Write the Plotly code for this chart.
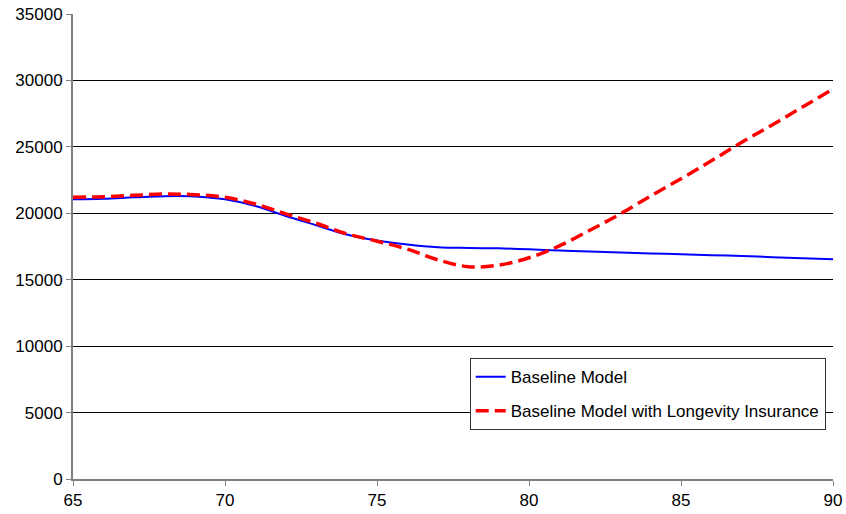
import plotly.graph_objects as go

ages = list(range(65, 91))
baseline = [21050, 21100, 21200, 21290, 21270, 21050, 20550, 19800, 19100, 18400,
            17950, 17650, 17450, 17390, 17360, 17290, 17190, 17120, 17050, 16980,
            16910, 16850, 16780, 16700, 16620, 16540]
longevity = [21200, 21250, 21350, 21450, 21400, 21200, 20700, 19950, 19250, 18450,
             17900, 17300, 16500, 15980, 16100, 16650, 17550, 18720, 19950, 21300,
             22600, 23950, 25350, 26650, 28000, 29350]
x_ticks = [65, 70, 75, 80, 85, 90]
y_ticks = [0, 5000, 10000, 15000, 20000, 25000, 30000, 35000]
y_labels = [str(v) for v in y_ticks]

fig = go.Figure()
fig.add_trace(go.Scatter(x=ages, y=baseline, mode="lines", name="Baseline Model",
                         line=dict(color="#0000FF", width=2, shape="spline"),
                         legendgroup="a"))
fig.add_trace(go.Scatter(x=ages, y=longevity, mode="lines",
                         name="Baseline Model with Longevity Insurance",
                         line=dict(color="#FF0000", width=3.5, dash="13px,6px", shape="spline"),
                         legendgroup="b"))

fig.update_layout(
    width=846, height=514,
    margin=dict(l=73, r=13, t=14, b=35),
    paper_bgcolor="white", plot_bgcolor="white",
    font=dict(family="Liberation Sans, Arial, sans-serif", size=17, color="black"),
    showlegend=True,
    legend=dict(x=0.522, y=0.26, xanchor="left", yanchor="top",
                bordercolor="#333333", borderwidth=1, bgcolor="white",
                traceorder="grouped", tracegroupgap=9,
                font=dict(size=17)),
    xaxis=dict(range=[65, 90], tickvals=x_ticks, showgrid=False, automargin=False,
               showline=True, linecolor="#808080", linewidth=2,
               ticks="outside", ticklen=5, tickcolor="#808080", zeroline=False,
               tickfont=dict(size=17)),
    yaxis=dict(range=[0, 35000], tickvals=y_ticks, ticktext=y_labels, showgrid=True,
               automargin=False,
               gridcolor="#000000", gridwidth=1,
               showline=True, linecolor="#808080", linewidth=2,
               ticks="outside", ticklen=5, tickcolor="#808080", zeroline=False,
               tickfont=dict(size=17)),
)

fig.write_html("out.html")
